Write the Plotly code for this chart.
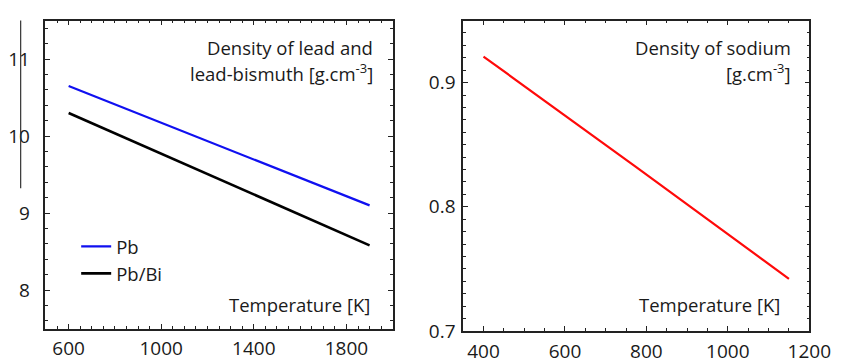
import plotly.graph_objects as go
from plotly.subplots import make_subplots

# ---- data ----
temps_pb = [600, 1250, 1900]
rho_pb = [10.65, 9.875, 9.10]
rho_pbbi = [10.30, 9.44, 8.58]

temps_na = [400, 775, 1150]
rho_na = [0.921, 0.832, 0.742]

left_xticks = [600, 1000, 1400, 1800]
left_xmid = [800, 1200, 1600]
left_yticks = [8, 9, 10, 11]
right_xticks = [400, 600, 800, 1000, 1200]
right_yticks = [0.7, 0.8, 0.9]
right_ylabels = ["0.7", "0.8", "0.9"]

W, H = 846, 363
FONT = "Open Sans"
TXT = "#1a1a1a"
AX = "#222222"
TICKSIZE = 19
TEXTSIZE = 18.5


def px(x):
    return x / W


def py(y):
    return 1 - y / H


fig = make_subplots(rows=1, cols=2)

fig.add_trace(go.Scatter(x=temps_pb, y=rho_pb, mode="lines", name="Pb",
                         line=dict(color="#1010f0", width=2.2)), row=1, col=1)
fig.add_trace(go.Scatter(x=temps_pb, y=rho_pbbi, mode="lines", name="Pb/Bi",
                         line=dict(color="#000000", width=2.6)), row=1, col=1)
fig.add_trace(go.Scatter(x=temps_na, y=rho_na, mode="lines", name="Na",
                         showlegend=False,
                         line=dict(color="#ff0a0a", width=2.2)), row=1, col=2)

common = dict(showline=True, linecolor=AX, linewidth=1.6, mirror="allticks",
              ticks="inside", ticklen=5, tickwidth=1.4, tickcolor=AX,
              showgrid=False, zeroline=False,
              tickfont=dict(family=FONT, size=TICKSIZE, color=TXT))

LX = [px(38.5), px(395)]
LY = [py(332.5), py(13)]

fig.update_xaxes(domain=LX, range=[500, 2000],
                 tickmode="array", tickvals=left_xticks,
                 ticklabelstandoff=2,
                 minor=dict(ticks="inside", dtick=50, tick0=500, ticklen=3,
                            tickwidth=1.2, tickcolor=AX, showgrid=False),
                 **common, row=1, col=1)
fig.update_yaxes(domain=LY, range=[7.5, 11.5],
                 tickmode="array", tickvals=left_yticks,
                 ticklabelstandoff=10,
                 minor=dict(ticks="inside", dtick=0.2, tick0=7.6, ticklen=3,
                            tickwidth=1.2, tickcolor=AX, showgrid=False),
                 **common, row=1, col=1)
fig.update_xaxes(domain=[px(467.3), px(822.7)], range=[350, 1200],
                 tickmode="array", tickvals=right_xticks,
                 ticklabelstandoff=2,
                 minor=dict(ticks="inside", dtick=50, tick0=350, ticklen=3,
                            tickwidth=1.2, tickcolor=AX, showgrid=False),
                 **common, row=1, col=2)
fig.update_yaxes(domain=[py(335), py(13)], range=[0.7, 0.95],
                 tickmode="array", tickvals=right_yticks, ticktext=right_ylabels,
                 ticklabelstandoff=2,
                 minor=dict(ticks="inside", dtick=0.01, tick0=0.7, ticklen=3,
                            tickwidth=1.2, tickcolor=AX, showgrid=False),
                 **common, row=1, col=2)

# unlabelled intermediate major ticks on the left panel's x axis
fig.update_layout(xaxis3=dict(overlaying="x", anchor="y", domain=LX,
                              range=[500, 2000], tickmode="array",
                              tickvals=left_xmid, showticklabels=False,
                              ticks="inside", ticklen=5, tickwidth=1.4,
                              tickcolor=AX, showline=False, mirror="allticks",
                              showgrid=False, zeroline=False))

ann = []


def label(text, x, y):
    ann.append(dict(text=text, x=px(x), y=py(y), xref="paper", yref="paper",
                    xanchor="right", yanchor="middle", showarrow=False,
                    font=dict(family=FONT, size=TEXTSIZE, color=TXT)))


label("Density of lead and", 377, 41)
label("lead-bismuth [g.cm<sup>-3</sup>]", 377, 67)
label("Temperature [K]", 374, 308)
label("Density of sodium", 806, 41)
label("[g.cm<sup>-3</sup>]", 806, 67)
label("Temperature [K]", 795, 308)

fig.add_shape(type="line", xref="paper", yref="paper",
              x0=px(13), x1=px(13), y0=py(13), y1=py(187),
              line=dict(color="#333333", width=1.2))

fig.update_layout(
    width=W, height=H,
    margin=dict(l=0, r=0, t=0, b=0),
    paper_bgcolor="white", plot_bgcolor="white",
    annotations=ann,
    showlegend=True,
    legend=dict(x=px(70), y=py(228), xanchor="left", yanchor="top",
                bgcolor="rgba(0,0,0,0)", itemwidth=30,
                tracegroupgap=6,
                font=dict(family=FONT, size=TEXTSIZE, color=TXT)),
)

fig.write_html("out.html")
